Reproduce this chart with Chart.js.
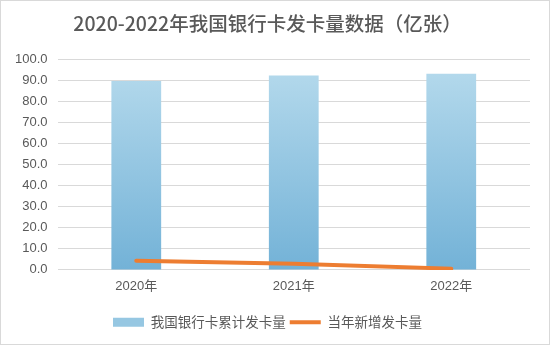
<!DOCTYPE html>
<html>
<head>
<meta charset="utf-8">
<script src="https://cdn.jsdelivr.net/npm/chart.js@4/dist/chart.umd.min.js"></script>
<style>
  html, body { margin: 0; padding: 0; background: #fff; }
  #wrap { width: 550px; height: 345px; box-sizing: border-box; border: 1px solid #d9d9d9; background: #fff; }
  #wrap canvas { display: block; }
</style>
</head>
<body>
<div id="wrap"><canvas id="c" width="548" height="343"></canvas></div>
<script>
// 年份
const years = ['2020年', '2021年', '2022年'];
// 银行卡累计发卡量（亿张）
const cumulativeCards = [89.7, 92.4, 93.2];
// 当年新增发卡量（亿张）
const newCards = [4.4, 2.9, 0.6];

const titleText = '2020-2022年我国银行卡发卡量数据（亿张）';
const cjk = '"Noto Sans CJK SC", "Noto Sans", sans-serif';
const latin = '"Liberation Sans", Arial, "Noto Sans CJK SC", sans-serif';
const textGrey = '#595959';

function barGradient(context) {
  const chart = context.chart;
  const area = chart.chartArea;
  if (!area) return '#93c4e0';
  const g = chart.ctx.createLinearGradient(0, area.top, 0, area.bottom);
  g.addColorStop(0, '#b7dbed');
  g.addColorStop(1, '#73b2d7');
  return g;
}

new Chart(document.getElementById('c'), {
  data: {
    labels: years,
    datasets: [
      {
        type: 'line',
        label: '当年新增发卡量',
        data: newCards,
        borderColor: '#ed7d31',
        backgroundColor: '#ed7d31',
        borderWidth: 4,
        pointRadius: 0,
        borderCapStyle: 'round',
        tension: 0,
        order: 0
      },
      {
        type: 'bar',
        label: '我国银行卡累计发卡量',
        data: cumulativeCards,
        backgroundColor: barGradient,
        borderWidth: 0,
        barPercentage: 0.316,
        categoryPercentage: 1,
        order: 1
      }
    ]
  },
  options: {
    responsive: false,
    animation: false,
    layout: { padding: { left: 4, right: 19, top: 0, bottom: 5 } },
    plugins: {
      title: {
        display: true,
        text: titleText,
        color: textGrey,
        font: { family: cjk, size: 19.5, weight: '500' },
        padding: { top: 11, bottom: 24 }
      },
      legend: {
        position: 'bottom',
        labels: {
          color: textGrey,
          font: { family: cjk, size: 13.5 },
          usePointStyle: true,
          pointStyleWidth: 31,
          boxHeight: 9,
          padding: 4,
          generateLabels(chart) {
            return [
              {
                text: '我国银行卡累计发卡量',
                fillStyle: '#96c7e2',
                strokeStyle: '#96c7e2',
                lineWidth: 0,
                pointStyle: 'rect',
                fontColor: textGrey,
                datasetIndex: 1
              },
              {
                text: '当年新增发卡量',
                fillStyle: '#ed7d31',
                strokeStyle: '#ed7d31',
                lineWidth: 4,
                pointStyle: 'line',
                fontColor: textGrey,
                datasetIndex: 0
              }
            ];
          }
        }
      },
      tooltip: { enabled: false }
    },
    scales: {
      x: {
        grid: { display: false, drawTicks: false },
        border: { display: false },
        ticks: { color: textGrey, font: { family: latin, size: 13 }, padding: 9 },
        // leave extra room between the year labels and the legend
        afterFit(scale) { scale.height += 8; }
      },
      y: {
        min: 0,
        max: 100,
        grid: { color: '#d9d9d9', lineWidth: 1, drawTicks: false },
        border: { display: false },
        ticks: {
          stepSize: 10,
          color: textGrey,
          font: { family: latin, size: 13 },
          padding: 10,
          callback: v => Number(v).toFixed(1)
        }
      }
    }
  }
});
</script>
</body>
</html>
